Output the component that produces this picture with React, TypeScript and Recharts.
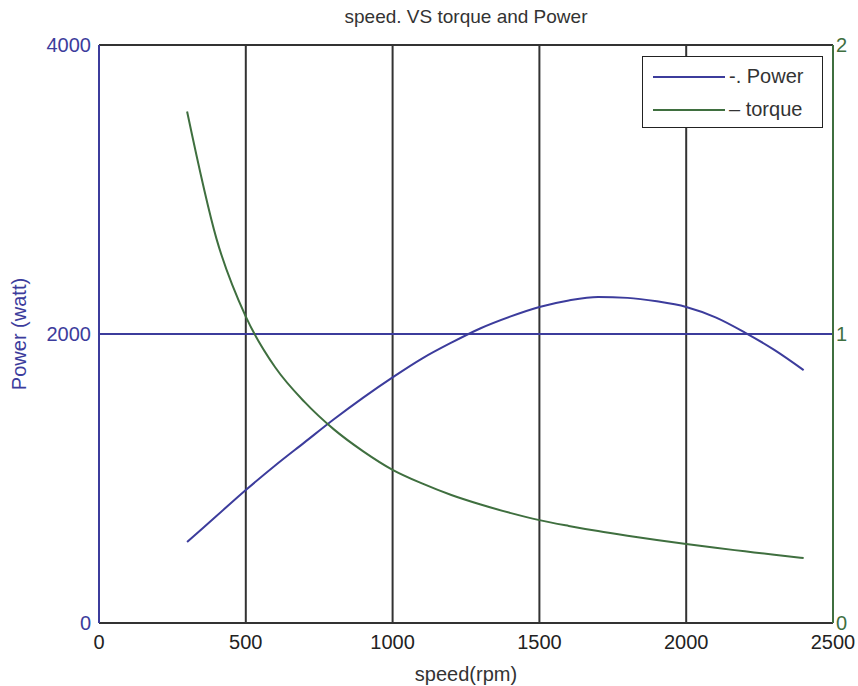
import {
  LineChart,
  Line,
  CartesianGrid,
  XAxis,
  YAxis,
  Legend,
} from "recharts";

const speed = [
  300, 400, 500, 600, 700, 800, 900, 1000, 1100, 1200, 1300, 1400, 1500, 1600,
  1700, 1800, 1900, 2000, 2100, 2200, 2300, 2400,
];
const power = [
  560, 740, 920, 1090, 1250, 1410, 1560, 1700, 1830, 1940, 2040, 2120, 2187,
  2232, 2256, 2250, 2226, 2187, 2115, 2010, 1890, 1750,
];
const torque = [
  1.77, 1.33, 1.06, 0.885, 0.765, 0.67, 0.594, 0.53, 0.483, 0.443, 0.41, 0.381,
  0.356, 0.336, 0.318, 0.302, 0.287, 0.273, 0.26, 0.248, 0.236, 0.225,
];

const speedTicks = [0, 500, 1000, 1500, 2000, 2500];
const powerTicks = [0, 2000, 4000];
const torqueTicks = [0, 1, 2];

const legendLabels: Record<string, string> = {
  power: "-. Power",
  torque: "\u2013 torque",
};

const data = speed.map((s, i) => ({ speed: s, power: power[i], torque: torque[i] }));

const BLUE = "#3c3c9c";
const GREEN = "#3f6f3f";
const FONT = "'Liberation Sans', Arial, sans-serif";

function LegendBox({ payload }: any) {
  return (
    <div
      style={{
        border: "1.5px solid #222",
        background: "#fff",
        width: 181,
        height: 72,
        boxSizing: "border-box",
        padding: "3px 0 0 10px",
        fontFamily: FONT,
        fontSize: 20,
        color: "#333",
        textAlign: "left",
      }}
    >
      {(payload || []).map((p: any) => (
        <div key={p.dataKey} style={{ display: "flex", alignItems: "center", height: 33 }}>
          <div style={{ width: 72, height: 2, background: p.color, marginRight: 4 }} />
          <span>{legendLabels[p.dataKey]}</span>
        </div>
      ))}
    </div>
  );
}

export default function App() {
  return (
    <div style={{ position: "absolute", left: 0, top: 0, width: 858, height: 686, background: "#fff" }}>
      <div
        style={{
          position: "absolute",
          left: 99,
          width: 734,
          top: 6,
          textAlign: "center",
          fontFamily: FONT,
          fontSize: 19,
          color: "#333",
        }}
      >
        speed. VS torque and Power
      </div>
      <LineChart
        width={858}
        height={686}
        data={data}
        margin={{ top: 45, right: 0, bottom: 0, left: 0 }}
      >
        <CartesianGrid
          yAxisId="left"
          stroke="#333"
          strokeWidth={2}
          horizontalValues={[powerTicks[powerTicks.length - 1]]}
          verticalValues={speedTicks.slice(1, -1)}
        />
        <CartesianGrid
          yAxisId="left"
          stroke={BLUE}
          strokeWidth={2}
          vertical={false}
          horizontalValues={powerTicks.slice(1, -1)}
        />
        <XAxis
          dataKey="speed"
          type="number"
          domain={[0, 2500]}
          ticks={speedTicks}
          height={63}
          tickLine={false}
          tickSize={4}
          tickMargin={8}
          axisLine={{ stroke: "#333", strokeWidth: 2 }}
          tick={{ fill: "#222", fontSize: 20, fontFamily: FONT }}
          label={{
            value: "speed(rpm)",
            position: "insideBottom",
            offset: 5,
            fill: "#333",
            fontSize: 20,
            fontFamily: FONT,
          }}
        />
        <YAxis
          yAxisId="left"
          domain={[0, 4000]}
          ticks={powerTicks}
          width={99}
          tickLine={false}
          tickSize={4}
          tickMargin={4}
          axisLine={{ stroke: BLUE, strokeWidth: 2 }}
          tick={{ fill: BLUE, fontSize: 20, fontFamily: FONT }}
          label={{
            value: "Power (watt)",
            angle: -90,
            position: "insideLeft",
            offset: 19,
            fill: BLUE,
            fontSize: 20,
            fontFamily: FONT,
            style: { textAnchor: "middle" },
          }}
        />
        <YAxis
          yAxisId="right"
          orientation="right"
          domain={[0, 2]}
          ticks={torqueTicks}
          width={25}
          tickLine={false}
          tickSize={1}
          tickMargin={2}
          axisLine={{ stroke: GREEN, strokeWidth: 2 }}
          tick={{ fill: GREEN, fontSize: 20, fontFamily: FONT, textAnchor: "start" }}
        />
        <Legend
          layout="vertical"
          verticalAlign="middle"
          align="center"
          content={<LegendBox />}
          wrapperStyle={{ top: 56, left: 642, width: 181, height: 72 }}
        />
        <Line
          yAxisId="left"
          type="monotone"
          dataKey="power"
          stroke={BLUE}
          strokeWidth={2}
          dot={false}
          isAnimationActive={false}
        />
        <Line
          yAxisId="right"
          type="monotone"
          dataKey="torque"
          stroke={GREEN}
          strokeWidth={2}
          dot={false}
          isAnimationActive={false}
        />
      </LineChart>
    </div>
  );
}
